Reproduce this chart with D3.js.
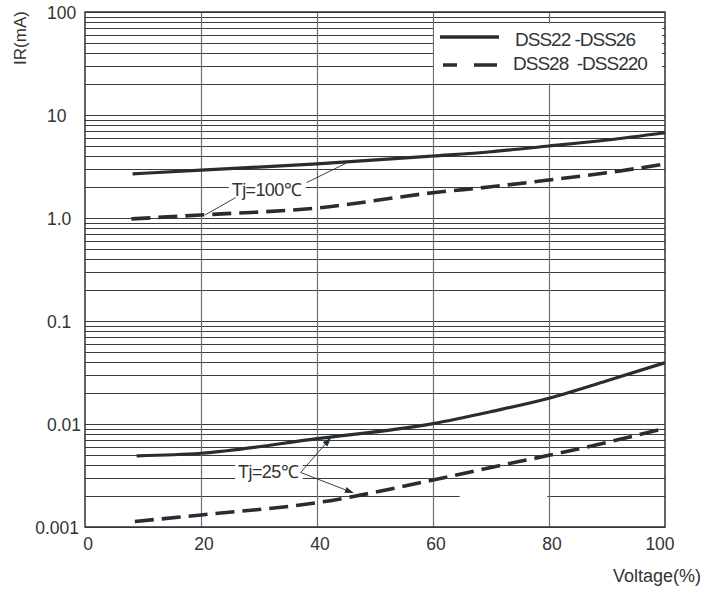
<!DOCTYPE html>
<html>
<head>
<meta charset="utf-8">
<script src="https://cdn.jsdelivr.net/npm/d3@7"></script>
<style>
  body { margin: 0; background: #fff; }
  svg { display: block; font-family: "Liberation Sans", Arial, sans-serif; }
</style>
</head>
<body>
<svg id="chart" width="719" height="590"></svg>
<script>
// values (voltage in %, IR in mA)
var volts100 = [8.2, 20, 40, 60, 70, 80, 90, 100];
var solid100 = [2.68, 2.92, 3.35, 4.0, 4.4, 5.0, 5.72, 6.73];
var volts100d = [8, 20, 40, 60, 70, 80, 90, 100];
var dash100 = [0.98, 1.07, 1.25, 1.76, 2.01, 2.34, 2.75, 3.34];
var volts25 = [8.9, 20, 40, 60, 70, 80, 90, 100];
var solid25 = [0.0049, 0.0052, 0.0072, 0.0101, 0.0132, 0.0178, 0.0263, 0.0394];
var volts25d = [8.6, 20, 40, 60, 70, 80, 90, 100];
var dash25 = [0.00113, 0.00131, 0.00172, 0.00286, 0.00379, 0.00497, 0.00663, 0.0091];

var xTicks = [0, 20, 40, 60, 80, 100];
var yTicks = [100, 10, 1, 0.1, 0.01, 0.001];
var yTickLabels = ["100", "10", "1.0", "0.1", "0.01", "0.001"];
var legendNames = ["DSS22 -DSS26", "DSS28  -DSS220"];

// annotation anchors: text spot and the curve points the leaders go to
var tj100Text = {v: 25.3, ir: 1.91, label: "Tj=100\u2103"};
var tj100Targets = [{v: 20.7, ir: 1.07}, {v: 45, ir: 3.40}];
var tj25Text = {v: 26.4, ir: 0.00342, label: "Tj=25\u2103"};
var tj25Targets = [{v: 42.3, ir: 0.00726}, {v: 46.2, ir: 0.00215}];

var ink = "#262d33";
var svg = d3.select("#chart");

var x = d3.scaleLinear().domain([0, 100]).range([85, 665]);
var y = d3.scaleLog().domain([0.001, 100]).range([527, 12]);

// horizontal grid, 1..9 per decade
var grid = svg.append("g");
grid.selectAll("line.h")
  .data(y.ticks())
  .enter().append("line")
  .attr("class", "h")
  .attr("x1", x(0)).attr("x2", x(100))
  .attr("y1", function(d) { return Math.round(y(d)) + 0.5; })
  .attr("y2", function(d) { return Math.round(y(d)) + 0.5; })
  .style("stroke", "#3c3c3c")
  .style("stroke-width", 1);

// odd break in the 0.002 line of the original
grid.append("line")
  .attr("x1", x(64.6)).attr("x2", x(79.7))
  .attr("y1", Math.round(y(0.002)) + 0.5).attr("y2", Math.round(y(0.002)) + 0.5)
  .style("stroke", "#fff").style("stroke-width", 2);

// legend panel blanks the lines from 70 down to 30
svg.append("rect")
  .attr("x", x(60) + 1)
  .attr("y", Math.round(y(80)) + 1.5)
  .attr("width", x(100) - x(60) - 4)
  .attr("height", Math.round(y(20)) - Math.round(y(80)) - 2)
  .style("fill", "#fff");

// vertical grid
grid.selectAll("line.v")
  .data([20, 40, 60, 80])
  .enter().append("line")
  .attr("class", "v")
  .attr("x1", function(d) { return Math.round(x(d)) + 0.5; })
  .attr("x2", function(d) { return Math.round(x(d)) + 0.5; })
  .attr("y1", y(100)).attr("y2", y(0.001))
  .style("stroke", "#6e6e6e")
  .style("stroke-width", 1.2);

// annotation labels with white backing
function addNote(t) {
  var g = svg.append("g");
  var txt = g.append("text")
    .attr("x", x(t.v))
    .attr("y", y(t.ir))
    .attr("dy", "0.36em")
    .style("font-size", "18px")
    .style("letter-spacing", "-0.6px")
    .style("fill", "#333")
    .text(t.label);
  var b = txt.node().getBBox();
  g.insert("rect", "text")
    .attr("x", b.x - 3).attr("y", b.y + 2)
    .attr("width", b.width + 7).attr("height", b.height - 4)
    .style("fill", "#fff");
  return b;
}
var b100 = addNote(tj100Text);
var b25 = addNote(tj25Text);

// curves
var line = d3.line()
  .x(function(d) { return x(d[0]); })
  .y(function(d) { return y(d[1]); })
  .curve(d3.curveMonotoneX);

function series(vs, irs) { return vs.map(function(v, i) { return [v, irs[i]]; }); }

svg.append("path").datum(series(volts100, solid100))
  .attr("d", line).style("fill", "none").style("stroke", ink).style("stroke-width", 3.2);
svg.append("path").datum(series(volts100d, dash100))
  .attr("d", line).style("fill", "none").style("stroke", ink).style("stroke-width", 3.6)
  .style("stroke-dasharray", "19,8");
svg.append("path").datum(series(volts25, solid25))
  .attr("d", line).style("fill", "none").style("stroke", ink).style("stroke-width", 3.2);
svg.append("path").datum(series(volts25d, dash25))
  .attr("d", line).style("fill", "none").style("stroke", ink).style("stroke-width", 3.6)
  .style("stroke-dasharray", "19,8");

// leaders
svg.append("defs").append("marker")
  .attr("id", "arr")
  .attr("viewBox", "0 0 10 10")
  .attr("refX", 9).attr("refY", 5)
  .attr("markerWidth", 9).attr("markerHeight", 9)
  .attr("markerUnits", "userSpaceOnUse")
  .attr("orient", "auto")
  .append("path").attr("d", "M0,1.5 L10,5 L0,8.5 Z").style("fill", ink);

svg.append("line")
  .attr("x1", b100.x + 4).attr("y1", b100.y + b100.height - 2)
  .attr("x2", x(tj100Targets[0].v)).attr("y2", y(tj100Targets[0].ir))
  .style("stroke", ink).style("stroke-width", 0.9);
svg.append("line")
  .attr("x1", b100.x + b100.width + 5).attr("y1", b100.y + 3)
  .attr("x2", x(tj100Targets[1].v)).attr("y2", y(tj100Targets[1].ir))
  .style("stroke", ink).style("stroke-width", 0.9);
tj25Targets.forEach(function(t) {
  svg.append("line")
    .attr("x1", b25.x + b25.width + 2).attr("y1", b25.y + b25.height / 2)
    .attr("x2", x(t.v)).attr("y2", y(t.ir))
    .attr("marker-end", "url(#arr)")
    .style("stroke", ink).style("stroke-width", 0.9);
});

// frame
svg.append("rect")
  .attr("x", x(0)).attr("y", y(100))
  .attr("width", x(100) - x(0)).attr("height", y(0.001) - y(100))
  .style("fill", "none").style("stroke", "#2e3338").style("stroke-width", 1.5);

// legend
svg.append("line")
  .attr("x1", 440).attr("x2", 499).attr("y1", 37).attr("y2", 37)
  .style("stroke", ink).style("stroke-width", 3.5);
svg.append("line")
  .attr("x1", 443).attr("x2", 497).attr("y1", 65).attr("y2", 65)
  .style("stroke", ink).style("stroke-width", 3.5)
  .style("stroke-dasharray", "14,17,23");
svg.selectAll("text.leg")
  .data(legendNames)
  .enter().append("text")
  .attr("class", "leg")
  .attr("x", function(d, i) { return i ? 513 : 515; })
  .attr("y", function(d, i) { return i ? 69.5 : 46; })
  .style("font-size", "19px")
  .style("letter-spacing", "-1px")
  .style("fill", "#2f3438")
  .style("white-space", "pre")
  .text(function(d) { return d; });

// tick labels
svg.selectAll("text.yt")
  .data(yTicks)
  .enter().append("text")
  .attr("class", "yt")
  .attr("x", function(d, i) { return i == yTicks.length - 1 ? 79 : 47; })
  .attr("y", function(d) { return y(d) + 1; })
  .attr("dy", "0.36em")
  .attr("text-anchor", function(d, i) { return i == yTicks.length - 1 ? "end" : "start"; })
  .style("font-size", "17.5px")
  .style("fill", "#333")
  .text(function(d, i) { return yTickLabels[i]; });

svg.selectAll("text.xt")
  .data(xTicks)
  .enter().append("text")
  .attr("class", "xt")
  .attr("x", function(d) { return d == 100 ? x(d) - 5 : x(d) + 3; })
  .attr("y", 549.5)
  .attr("text-anchor", "middle")
  .style("font-size", "17.5px")
  .style("fill", "#333")
  .text(function(d) { return d; });

// axis titles
svg.append("text")
  .attr("transform", "translate(26,38) rotate(-90)")
  .attr("text-anchor", "middle")
  .style("font-size", "17px")
  .style("fill", "#333")
  .text("IR(mA)");
svg.append("text")
  .attr("x", 613).attr("y", 582)
  .style("font-size", "18px")
  .style("fill", "#333")
  .text("Voltage(%)");
</script>
</body>
</html>
